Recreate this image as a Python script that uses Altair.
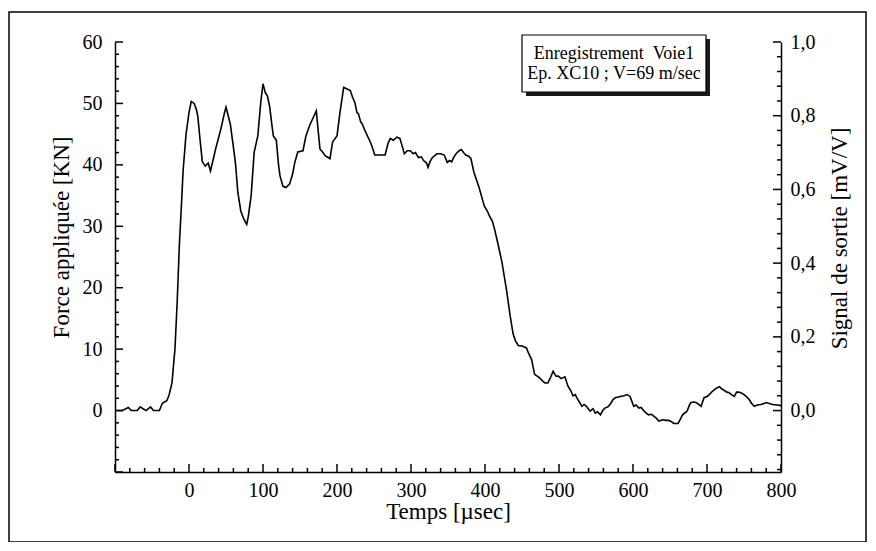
import altair as alt
import pandas as pd

# ---------------- data ----------------
time_us = [-100, -90, -82, -78, -70, -66, -62, -58, -52, -48, -40, -36, -30, -27, -23, -19, -16, -13, -10, -8,
           -4, 0, 3, 7, 10, 12, 15, 18, 22, 26, 29, 32, 36, 43, 48, 50, 53, 56, 61, 63,
           66, 70, 74, 78, 80, 84, 88, 93, 97, 100, 103, 106, 109, 112, 114, 118, 121, 123, 127, 131,
           136, 140, 143, 147, 154, 158, 163, 169, 172, 175, 177, 181, 184, 188, 190.5, 194, 200, 204, 209, 213,
           218, 221, 224, 227, 229, 232, 234, 237, 240, 244, 247, 251, 258, 265, 269, 272, 276, 281, 285, 287,
           291, 295, 299, 303, 306, 310, 314, 317, 321, 323, 326, 329, 335, 340, 345, 349, 352, 355, 358, 361,
           365, 368, 371, 374, 378, 381, 385, 392, 399, 403, 406, 410, 413, 417, 423, 429, 434, 438, 441, 445,
           450, 456, 459, 463, 467, 472, 474, 478, 481, 485, 489, 492, 496, 499, 503, 508, 512, 516, 519, 522,
           524, 527, 531, 534, 537, 540, 542, 546, 549, 552, 556, 559, 562, 566, 569, 573, 576, 580, 583, 588,
           592, 596, 601, 604, 608, 611, 615, 618, 621, 625, 628, 631, 635, 640, 644, 648, 652, 655, 661, 664,
           667, 673, 676, 678, 682, 685, 689, 692, 696, 700, 703, 707, 712, 717, 720, 723, 727, 730, 733, 737,
           740, 742, 746, 750, 753, 757, 760, 764, 768, 773, 778, 780, 785, 789, 795, 800]
force_kn = [0.0, 0.0, 0.5, 0.0, 0.0, 0.6, 0.3, 0.0, 0.6, 0.0, 0.0, 1.2, 1.6, 2.5, 4.5, 10.0, 17.6, 27.0, 34.0, 39.0,
            45.0, 48.5, 50.3, 50.0, 49.0, 47.8, 44.0, 40.5, 39.8, 40.3, 39.0, 40.5, 42.6, 45.8, 48.5, 49.4, 48.0, 46.5, 42.0, 40.0,
            35.5, 32.5, 31.2, 30.3, 31.5, 35.0, 42.0, 44.7, 50.2, 53.2, 51.8, 51.2, 49.5, 46.5, 44.7, 44.0, 40.0, 38.2, 36.5, 36.3,
            36.9, 38.5, 40.4, 42.1, 42.3, 44.7, 46.4, 48.0, 48.8, 45.0, 42.6, 42.0, 41.5, 41.2, 41.0, 43.7, 44.7, 48.5, 52.6, 52.4,
            52.1, 51.0, 50.2, 48.5, 48.3, 47.0, 46.7, 45.8, 45.0, 44.0, 43.1, 41.6, 41.6, 41.6, 43.5, 44.3, 44.0, 44.5, 44.3, 43.5,
            41.8, 42.3, 42.3, 41.8, 42.0, 41.2, 41.3, 40.7, 40.3, 39.6, 40.6, 41.2, 41.8, 41.8, 41.6, 40.4, 40.7, 40.5, 41.3, 41.8,
            42.3, 42.5, 42.0, 41.6, 41.4, 41.0, 38.8, 36.3, 33.3, 32.5, 31.7, 30.8, 29.5, 27.4, 24.1, 19.7, 15.4, 12.5, 11.4, 10.6,
            10.5, 10.2, 9.3, 8.3, 5.9, 5.5, 5.3, 4.8, 4.5, 4.5, 5.5, 6.4, 5.6, 5.6, 5.2, 5.5, 4.0, 3.2, 2.4, 2.6,
            2.1, 1.5, 0.7, 1.0, 0.7, 0.2, -0.1, 0.3, -0.4, -0.2, -0.7, 0.0, 0.4, 0.6, 1.0, 1.8, 2.1, 2.2, 2.3, 2.4,
            2.6, 2.3, 0.7, 0.9, 0.4, 0.5, -0.1, -0.4, -0.7, -0.6, -0.9, -1.2, -1.7, -1.5, -1.6, -1.6, -1.8, -2.1, -2.1, -1.4,
            -0.7, -0.1, 0.8, 1.3, 1.4, 1.3, 1.0, 0.7, 2.1, 2.3, 2.6, 3.1, 3.6, 3.9, 3.5, 3.3, 3.0, 2.9, 2.6, 2.3,
            3.0, 3.0, 2.9, 2.6, 2.3, 1.8, 1.2, 0.7, 0.9, 1.0, 1.2, 1.3, 1.1, 1.0, 0.9, 0.8]

x_major_ticks = [-100, 0, 100, 200, 300, 400, 500, 600, 700, 800]
x_minor_ticks = [v for v in range(-100, 801, 20) if v % 100 != 0]
x_labels = [0, 100, 200, 300, 400, 500, 600, 700, 800]
y_major_ticks = [-10, 0, 10, 20, 30, 40, 50, 60]
y_minor_ticks = [v for v in range(-10, 61, 2) if v % 10 != 0]
y_labels = [0, 10, 20, 30, 40, 50, 60]
# right axis: signal [mV/V], 1.0 mV/V  <->  60 kN
right_major_mvv = [0.0, 0.2, 0.4, 0.6, 0.8, 1.0]
right_minor_mvv = [-0.16, -0.12, -0.08, -0.04, 0.04, 0.08, 0.12, 0.16, 0.24, 0.28, 0.32, 0.36,
                   0.44, 0.48, 0.52, 0.56, 0.64, 0.68, 0.72, 0.76, 0.84, 0.88, 0.92, 0.96]
KN_PER_MVV = 60.0

legend_lines = ["Enregistrement\u00a0\u00a0Voie1", "Ep. XC10 ; V=69 m/sec"]

title_x = "Temps [µsec]"
title_left = "Force appliquée [KN]"
title_right = "Signal de sortie [mV/V]"

# ---------------- layout ----------------
W, H = 666, 430
FONT = "Liberation Serif"
MAJ, MIN = 8, 4
LBL, TTL = 20, 23

xs = alt.Scale(domain=[-100, 800], nice=False, zero=False)
ys = alt.Scale(domain=[-10, 60], nice=False, zero=False)

x_axis = alt.Axis(
    orient="bottom", values=x_labels, ticks=False, grid=False, domain=True,
    domainColor="black", domainWidth=1.5, labelFont=FONT, labelFontSize=LBL, labelColor="black",
    labelPadding=8, title=title_x, titleFont=FONT, titleFontSize=TTL, titleFontWeight="normal",
    titleColor="black", titlePadding=0, labelFlush=False)

curve_df = pd.DataFrame({"t": time_us, "f": force_kn})
one = pd.DataFrame({"k": [0]})

frame = alt.Chart(one).mark_rect(fill="white", fillOpacity=0, stroke="black", strokeWidth=1.5).encode(
    x=alt.value(-106), x2=alt.value(751), y=alt.value(-30), y2=alt.value(500))

curve = alt.Chart(curve_df).mark_line(color="black", strokeWidth=1.6, interpolate="linear").encode(
    x=alt.X("t:Q", scale=xs, axis=x_axis),
    y=alt.Y("f:Q", scale=ys, axis=alt.Axis(
        orient="left", values=y_labels, ticks=False, grid=False, domain=True,
        domainColor="black", domainWidth=1.5, labelFont=FONT, labelFontSize=LBL, labelColor="black",
        labelPadding=13, title=title_left, titleFont=FONT, titleFontSize=TTL, titleFontWeight="normal",
        titleColor="black", titleBaseline="middle", titleX=-54, titleY=195, labelFlush=False)),
)

right_major_df = pd.DataFrame({"v": [m * KN_PER_MVV for m in right_major_mvv]})
right_minor_df = pd.DataFrame({"v": [m * KN_PER_MVV for m in right_minor_mvv]})

right_major = alt.Chart(right_major_df).mark_rule(color="black", strokeWidth=1.5).encode(
    y=alt.Y("v:Q", scale=ys, axis=alt.Axis(
        orient="right", values=[m * KN_PER_MVV for m in right_major_mvv], ticks=False, grid=False,
        domain=True, domainColor="black", domainWidth=1.5,
        labelExpr="replace(format(datum.value / 60, '.1f'), '.', ',')",
        labelFont=FONT, labelFontSize=LBL, labelColor="black", labelPadding=9,
        title=title_right, titleFont=FONT, titleFontSize=TTL, titleFontWeight="normal", titleColor="black",
        titleAngle=270, titleBaseline="middle", titleX=58, titleY=196, labelFlush=False)),
    x=alt.value(W - MAJ), x2=alt.value(W))
right_minor = alt.Chart(right_minor_df).mark_rule(color="black", strokeWidth=1.5).encode(
    y=alt.Y("v:Q", scale=ys, axis=None), x=alt.value(W - MIN), x2=alt.value(W))

left_major = alt.Chart(pd.DataFrame({"v": y_major_ticks})).mark_rule(color="black", strokeWidth=1.5).encode(
    y=alt.Y("v:Q", scale=ys, axis=None), x=alt.value(0), x2=alt.value(MAJ))
left_minor = alt.Chart(pd.DataFrame({"v": y_minor_ticks})).mark_rule(color="black", strokeWidth=1.5).encode(
    y=alt.Y("v:Q", scale=ys, axis=None), x=alt.value(0), x2=alt.value(MIN))
bottom_major = alt.Chart(pd.DataFrame({"t": x_major_ticks})).mark_rule(color="black", strokeWidth=1.5).encode(
    x=alt.X("t:Q", scale=xs, axis=x_axis), y=alt.value(H), y2=alt.value(H - MAJ))
bottom_minor = alt.Chart(pd.DataFrame({"t": x_minor_ticks})).mark_rule(color="black", strokeWidth=1.5).encode(
    x=alt.X("t:Q", scale=xs, axis=x_axis), y=alt.value(H), y2=alt.value(H - MIN))

shadow = alt.Chart(one).mark_rect(fill="#1a1a1a").encode(
    x=alt.value(411), x2=alt.value(595), y=alt.value(-3), y2=alt.value(54))
box = alt.Chart(one).mark_rect(fill="white", stroke="black", strokeWidth=1.2).encode(
    x=alt.value(407), x2=alt.value(591), y=alt.value(-7), y2=alt.value(50))
legend_text = alt.Chart(one).mark_text(
    text=legend_lines, font=FONT, fontSize=18, color="black", align="center", baseline="middle",
    lineHeight=20).encode(x=alt.value(499), y=alt.value(12))

chart = alt.layer(
    frame, curve, right_major, right_minor, left_major, left_minor, bottom_major, bottom_minor,
    shadow, box, legend_text
).resolve_axis(y="independent").properties(
    width=W, height=H,
    autosize=alt.AutoSizeParams(type="none"),
    padding={"left": 107, "top": 34, "right": 87, "bottom": 70},
    background="white",
).configure_view(stroke=None)

chart.save("out.html", embed_options={"renderer": "svg", "actions": False})
